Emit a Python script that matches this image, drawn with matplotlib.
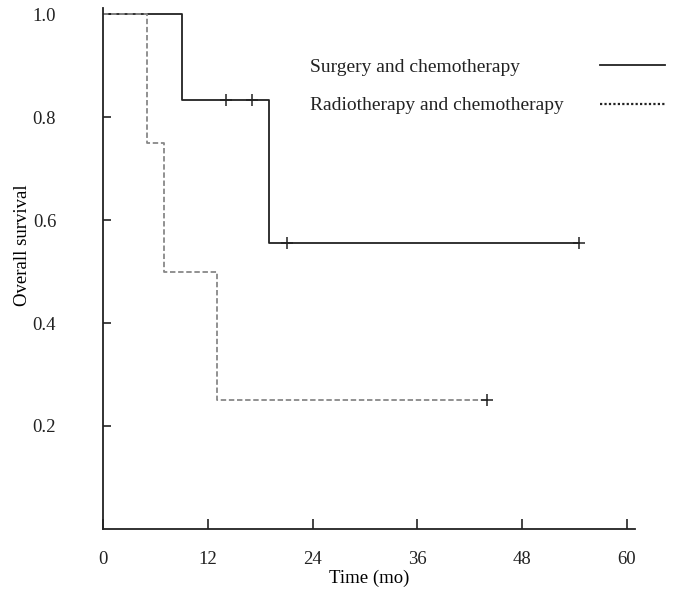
import matplotlib
matplotlib.use("Agg")
import matplotlib.pyplot as plt
from matplotlib.lines import Line2D
import numpy as np

# Kaplan-Meier step data
surg_t = [0, 9, 19, 54.5]
surg_s = [1.0, 0.833, 0.556, 0.556]
surg_cens_t = [14, 17, 21, 54.5]

radio_t = [0, 5, 7, 13, 44]
radio_s = [1.0, 0.75, 0.5, 0.25, 0.25]
radio_cens_t = [44]

x_ticks = [0, 12, 24, 36, 48, 60]
y_ticks = [0.2, 0.4, 0.6, 0.8, 1.0]
labels = ["Surgery and chemotherapy", "Radiotherapy and chemotherapy"]


def surv_at(times, surv, t):
    idx = np.searchsorted(times, t, side="right") - 1
    return surv[idx]


plt.rcParams["font.family"] = ["Liberation Serif", "DejaVu Serif"]
plt.rcParams["font.size"] = 13.5

W, H = 676, 591
fig = plt.figure(figsize=(W / 100, H / 100), dpi=100)
ax = fig.add_axes([0.153, 0.105, 0.787, 0.8815])

ax.step(surg_t, surg_s, where="post", color="#222222", lw=1.3)
ax.step(radio_t, radio_s, where="post", color="#888888", lw=1.3,
        linestyle=(0, (3, 1.5)))

ax.plot(surg_cens_t, [surv_at(surg_t, surg_s, t) for t in surg_cens_t],
        linestyle="none", marker="+", ms=9, mew=1.1, color="#222222")
ax.plot(radio_cens_t, [surv_at(radio_t, radio_s, t) for t in radio_cens_t],
        linestyle="none", marker="+", ms=9, mew=1.1, color="#222222")

ax.set_xlim(0, 61)
ax.set_ylim(0, 1.012)
ax.set_xticks(x_ticks)
ax.set_yticks(y_ticks)
ax.set_yticklabels([f"{v:.1f}" for v in y_ticks])

for s in ["top", "right"]:
    ax.spines[s].set_visible(False)
for s in ["left", "bottom"]:
    ax.spines[s].set_linewidth(1.3)
    ax.spines[s].set_color("#222222")

ax.tick_params(axis="x", direction="in", length=7, width=1.2, pad=16,
               colors="#222222", labelcolor="#222222")
ax.tick_params(axis="y", direction="in", length=6, width=1.2, pad=34,
               colors="#222222", labelcolor="#222222")

ax.set_xlabel("Time (mo)", labelpad=1)
ax.set_ylabel("Overall survival")
ax.yaxis.set_label_coords(-0.137, 0.545)

# legend drawn by hand: text on the left, line sample on the right
for i, (lab, ls) in enumerate(zip(labels, ["-", (0, (1, 1))])):
    yc = 1 - (67 + 39 * i) / H
    fig.text(310 / W, yc, lab, ha="left", va="center", color="#222222",
             fontsize=14)
    fig.add_artist(Line2D([600 / W, 665 / W], [yc + 2 / H, yc + 2 / H],
                          color="#222222",
                          lw=1.3 if ls == "-" else 1.6, linestyle=ls,
                          transform=fig.transFigure))

fig.savefig("out.png", dpi=100)
